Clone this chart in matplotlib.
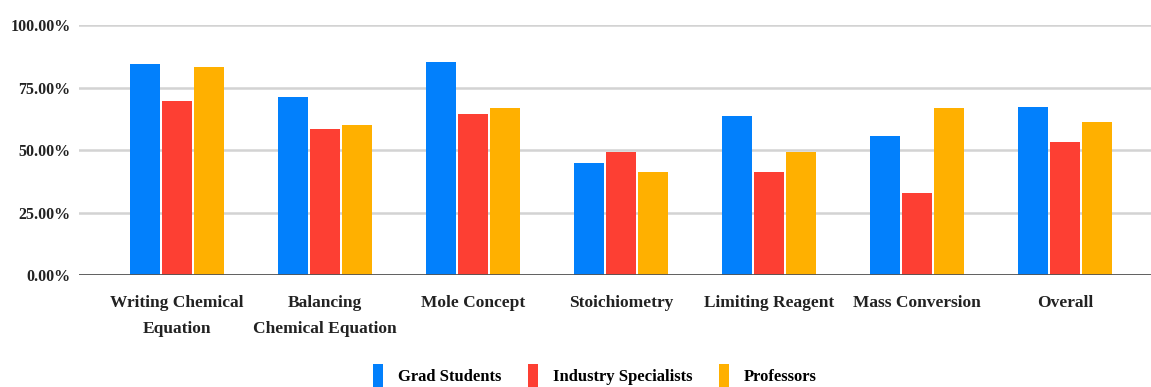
import matplotlib.pyplot as plt
import numpy as np
from matplotlib.patches import Patch

# data (percent)
categories = ['Writing Chemical\nEquation', 'Balancing\nChemical Equation', 'Mole Concept',
              'Stoichiometry', 'Limiting Reagent', 'Mass Conversion', 'Overall']
grad = [84.6, 71.2, 85.4, 44.9, 63.6, 55.5, 67.3]
industry = [69.5, 58.4, 64.3, 49.4, 41.3, 33.0, 53.3]
professors = [83.2, 60.0, 66.8, 41.3, 49.4, 66.7, 61.4]
series_names = ['Grad Students', 'Industry Specialists', 'Professors']
colors = ['#0280FC', '#FD3F33', '#FFB000']

plt.rcParams['font.family'] = ['Liberation Serif', 'DejaVu Serif']
plt.rcParams['font.weight'] = 'bold'

fig = plt.figure(figsize=(11.51, 3.87), dpi=100)
ax = fig.add_axes([0.0686, 0.2886, 0.9314, 0.6468])

x = np.arange(len(categories))
w = 0.205
step = 0.216
for k, vals in enumerate([grad, industry, professors]):
    ax.bar(x + (k - 1) * step, vals, width=w, color=colors[k], edgecolor='none', zorder=3)

ax.set_xlim(-0.662, 6.581)
ax.set_ylim(0, 100)
ax.set_yticks([0, 25, 50, 75, 100])
ax.set_yticklabels(['0.00%', '25.00%', '50.00%', '75.00%', '100.00%'], fontsize=11.5, fontweight='bold')
ax.set_xticks(x)
ax.set_xticklabels(categories, fontsize=12.5, fontweight='bold', linespacing=1.85)
ax.tick_params(axis='both', length=0, colors='#222222')
ax.tick_params(axis='y', pad=6)
ax.tick_params(axis='x', pad=14)

ax.grid(axis='y', color='#d3d3d3', linewidth=1.8, zorder=0)
ax.axhline(0, color='#555555', linewidth=2, zorder=4)
for s in ax.spines.values():
    s.set_visible(False)

handles = [Patch(facecolor=c, edgecolor='none') for c in colors]
fig.legend(handles, series_names, loc='center', bbox_to_anchor=(0.517, 0.03), ncol=3,
           frameon=False, fontsize=12, handlelength=0.6, handleheight=1.7,
           handletextpad=0.9, columnspacing=1.6)

plt.savefig('out.png', dpi=100)
